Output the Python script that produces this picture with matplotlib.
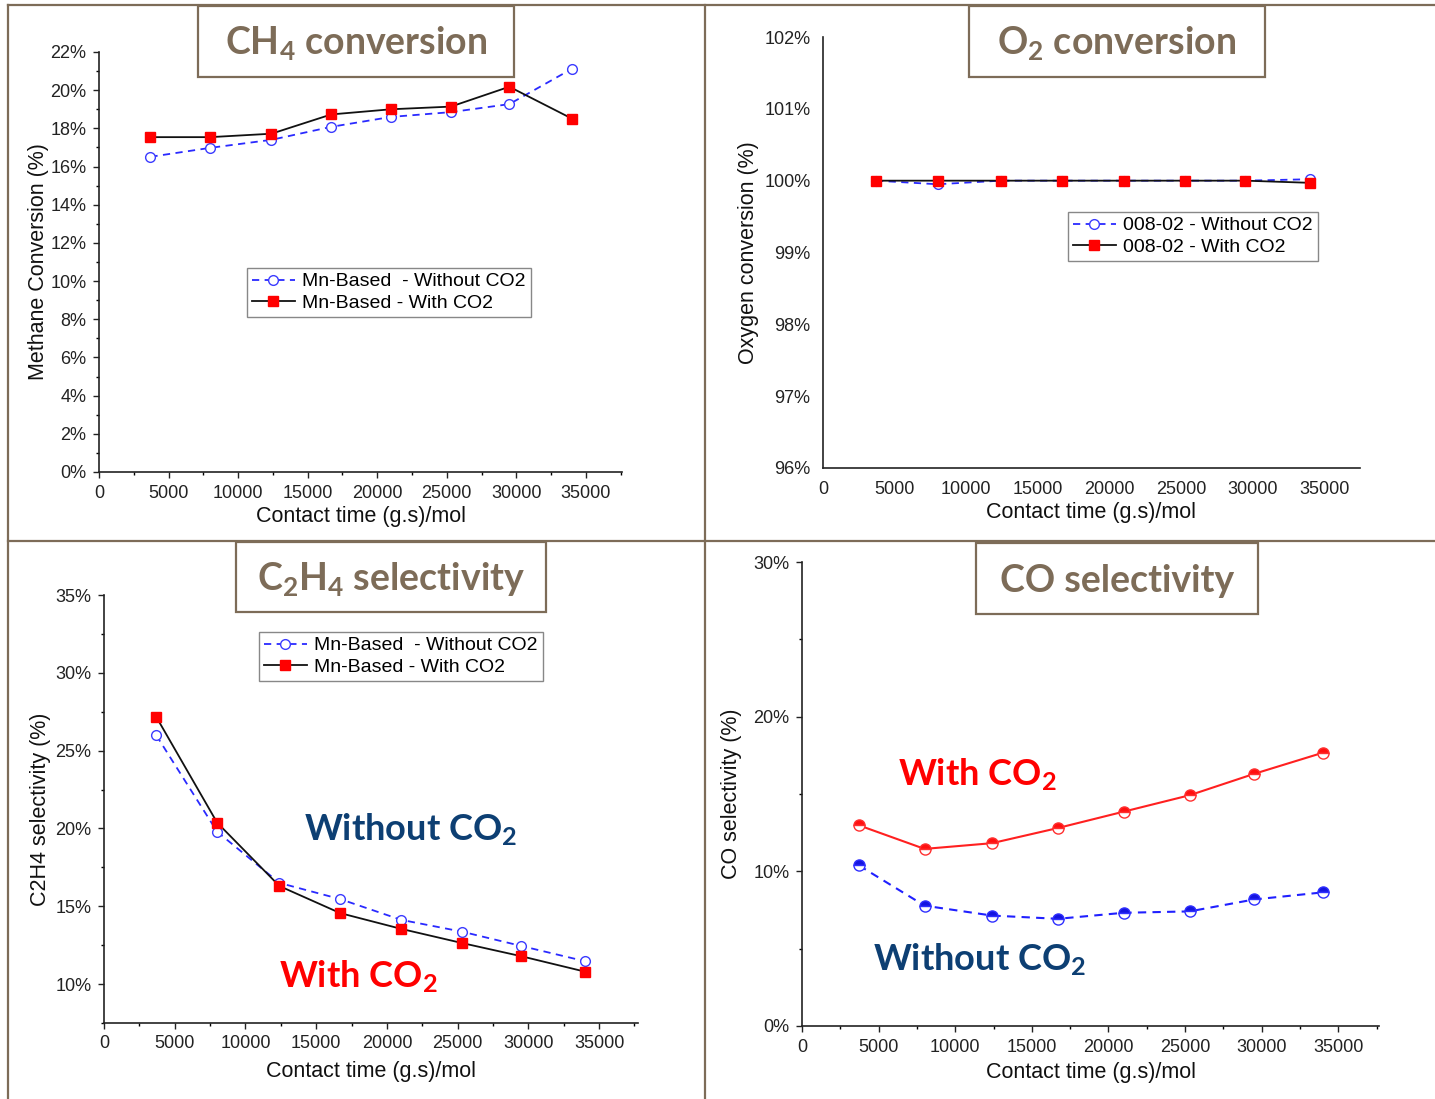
import matplotlib.pyplot as plt
from matplotlib.lines import Line2D
from matplotlib.patches import Rectangle
from matplotlib.ticker import MultipleLocator, FuncFormatter

plt.rcParams["font.family"] = ["Liberation Sans", "DejaVu Sans"]
plt.rcParams["mathtext.default"] = "regular"

# contact time (g.s)/mol, same for all four panels
contact_time = [3700, 8000, 12400, 16700, 21000, 25300, 29500, 34000]

# CH4 conversion (%)
ch4_without = [16.51, 16.98, 17.40, 18.08, 18.60, 18.85, 19.27, 21.12]
ch4_with = [17.54, 17.54, 17.72, 18.73, 19.00, 19.14, 20.18, 18.51]
# O2 conversion (%)
o2_without = [100.0, 99.95, 100.0, 100.0, 100.0, 100.0, 100.0, 100.02]
o2_with = [100.0, 100.0, 100.0, 100.0, 100.0, 100.0, 100.0, 99.97]
# C2H4 selectivity (%)
c2h4_without = [25.98, 19.79, 16.5, 15.46, 14.13, 13.37, 12.45, 11.47]
c2h4_with = [27.16, 20.37, 16.3, 14.56, 13.55, 12.64, 11.79, 10.8]
# CO selectivity (%)
co_without = [10.39, 7.78, 7.14, 6.93, 7.32, 7.41, 8.18, 8.64]
co_with = [12.98, 11.45, 11.82, 12.8, 13.86, 14.92, 16.3, 17.67]

x_ticks = [0, 5000, 10000, 15000, 20000, 25000, 30000, 35000]

W, H = 1435, 1099
BROWN = "#7d6c58"
NAVY = "#0d3f73"
fig = plt.figure(figsize=(W / 100, H / 100), dpi=100)


def px_axes(x0, x1, ytop, ybot):
    # axes rectangle from pixel coords of the original slide
    return fig.add_axes([x0 / W, 1 - ybot / H, (x1 - x0) / W, (ybot - ytop) / H])


def fx(x):
    return x / W


def fy(y):
    return 1 - y / H


def style_axes(ax, ylab, xlab_y, ylab_x, ticks=True):
    for s in ["top", "right"]:
        ax.spines[s].set_visible(False)
    for s in ["left", "bottom"]:
        ax.spines[s].set_linewidth(1.2)
        ax.spines[s].set_color("#222222")
    ax.set_xticks(x_ticks)
    ax.yaxis.set_major_formatter(FuncFormatter(lambda v, p: f"{v:.0f}%"))
    if ticks:
        ax.xaxis.set_minor_locator(MultipleLocator(2500))
        ax.tick_params(which="major", direction="out", length=4, width=1, pad=5,
                       labelsize=13, colors="#222222")
        ax.tick_params(which="minor", direction="out", length=2.5, width=1)
    else:
        ax.tick_params(which="both", length=0, pad=9, labelsize=13, colors="#222222")
    ax.set_xlabel("Contact time (g.s)/mol", fontsize=15.5, color="#111111")
    ax.set_ylabel(ylab, fontsize=15.5, color="#111111")
    ax.xaxis.set_label_coords(0.5, xlab_y)
    ax.yaxis.set_label_coords(ylab_x, 0.5)


def two_series(ax, y_without, y_with, lab_without, lab_with, legend_xy):
    ax.plot(contact_time, y_without, color="#2a2aff", ls=(0, (4, 3)), lw=1.3,
            marker="o", ms=7, mfc="white", mec="#3b3bff", mew=1.0, label=lab_without)
    ax.plot(contact_time, y_with, color="#111111", ls="-", lw=1.3,
            marker="s", ms=7.5, mfc="#ff0000", mec="#ff0000", label=lab_with)
    leg = ax.legend(loc="upper left", bbox_to_anchor=(fx(legend_xy[0]), fy(legend_xy[1])),
                    bbox_transform=fig.transFigure, fontsize=14, fancybox=False,
                    framealpha=1, edgecolor="#888888", handlelength=2.2,
                    handletextpad=0.4, borderpad=0.25, labelspacing=0.2,
                    borderaxespad=0)
    leg.get_frame().set_linewidth(1.0)


def title_box(x0, x1, y0, y1, text):
    fig.add_artist(Rectangle((fx(x0), fy(y1)), fx(x1 - x0), (y1 - y0) / H,
                             transform=fig.transFigure, facecolor="white",
                             edgecolor=BROWN, lw=1.6, zorder=5))
    fig.text(fx((x0 + x1) / 2), fy((y0 + y1) / 2 + 2), text, ha="center", va="center",
             fontsize=27, fontweight="bold", color=BROWN, family=["Lato", "DejaVu Sans"],
             zorder=6)


def note(x, y, text, color):
    fig.text(fx(x), fy(y), text, ha="center", va="center", fontsize=26,
             fontweight="bold", color=color, family=["Lato", "DejaVu Sans"])


# slide grid lines
for xs, ys in [([8, 1435], [5, 5]), ([8, 8], [5, 1099]), ([705, 705], [5, 1099]),
               ([8, 1435], [541, 541])]:
    fig.add_artist(Line2D([fx(v) for v in xs], [fy(v) for v in ys],
                          transform=fig.transFigure, color=BROWN, lw=1.6))

# ---------------- CH4 conversion
ax1 = px_axes(99, 622, 52, 472)
two_series(ax1, ch4_without, ch4_with, "Mn-Based  - Without CO2", "Mn-Based - With CO2",
           (247, 268))
ax1.set_xlim(0, 37600)
ax1.set_ylim(0, 22)
ax1.set_yticks(range(0, 23, 2))
ax1.yaxis.set_minor_locator(MultipleLocator(1))
style_axes(ax1, "Methane Conversion (%)", -0.08, -0.096)
title_box(198, 514, 6, 77, "CH$_4$ conversion")

# ---------------- O2 conversion
ax2 = px_axes(823, 1360, 37, 468)
two_series(ax2, o2_without, o2_with, "008-02 - Without CO2", "008-02 - With CO2",
           (1068, 212))
ax2.set_xlim(0, 37500)
ax2.set_ylim(96, 102)
ax2.set_yticks(range(96, 103))
style_axes(ax2, "Oxygen conversion (%)", -0.08, -0.119, ticks=False)
title_box(969, 1265, 6, 77, "O$_2$ conversion")

# ---------------- C2H4 selectivity
ax3 = px_axes(104, 638, 595, 1023)
two_series(ax3, c2h4_without, c2h4_with, "Mn-Based  - Without CO2", "Mn-Based - With CO2",
           (259, 632))
ax3.set_xlim(0, 37750)
ax3.set_ylim(7.5, 35)
ax3.set_yticks(range(10, 36, 5))
ax3.yaxis.set_minor_locator(MultipleLocator(2.5))
style_axes(ax3, "C2H4 selectivity (%)", -0.088, -0.099)
title_box(236, 546, 542, 612, "C$_2$H$_4$ selectivity")
note(411, 830, "Without CO$_2$", NAVY)
note(358, 977, "With CO$_2$", "#ff0000")

# ---------------- CO selectivity
ax4 = px_axes(802, 1379, 562, 1026)
ax4.plot(contact_time, co_with, color="#ff2020", lw=1.5, marker="o", ms=8,
         fillstyle="top", mfc="#ff1010", mfcalt="white", mec="#ff3030", mew=1.0)
ax4.plot(contact_time, co_without, color="#2020ff", lw=1.5, ls=(0, (4, 3)), marker="o",
         ms=8, fillstyle="top", mfc="#1515e0", mfcalt="white", mec="#3030ff", mew=1.0)
ax4.set_xlim(0, 37660)
ax4.set_ylim(0, 30)
ax4.set_yticks([0, 10, 20, 30])
ax4.yaxis.set_minor_locator(MultipleLocator(5))
style_axes(ax4, "CO selectivity (%)", -0.077, -0.104)
title_box(976, 1258, 543, 614, "CO selectivity")
note(977, 775, "With CO$_2$", "#ff0000")
note(980, 960, "Without CO$_2$", NAVY)

fig.savefig("out.png", dpi=100)
